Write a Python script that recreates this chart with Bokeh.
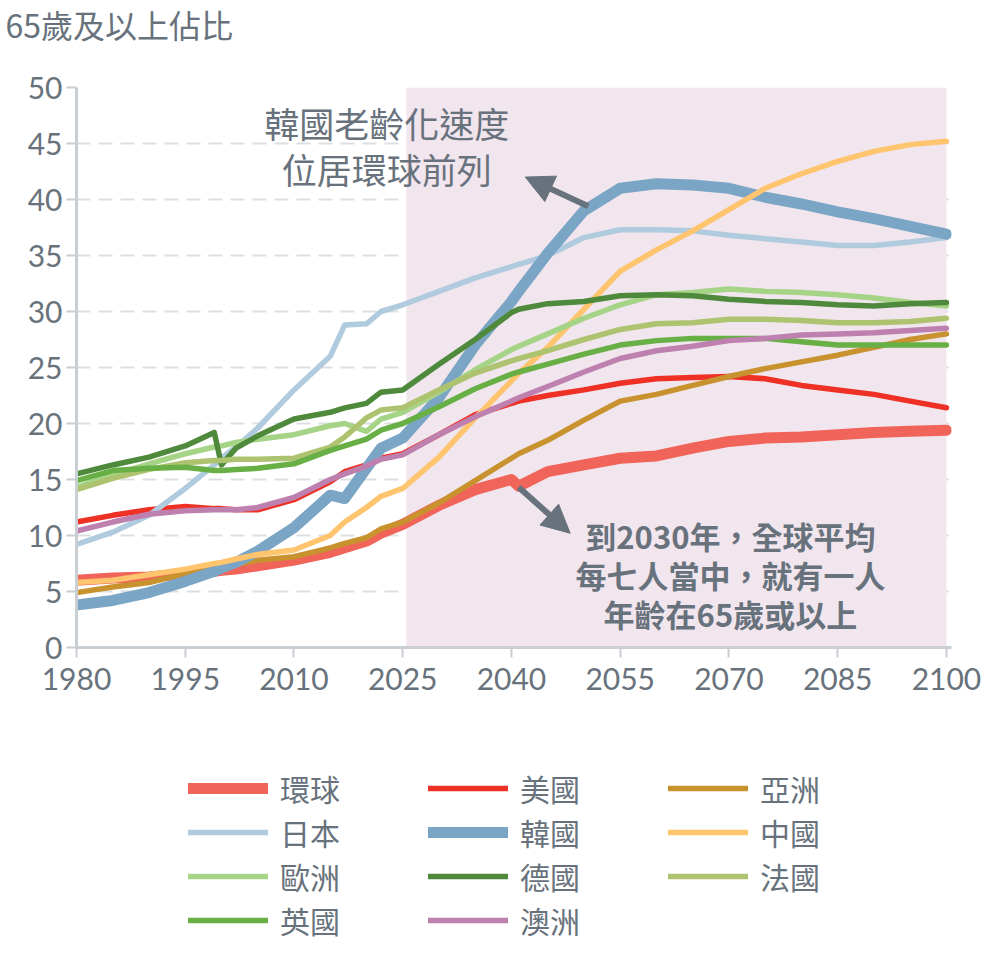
from bokeh.plotting import figure
from bokeh.layouts import column
from bokeh.models import (Range1d, SingleIntervalTicker, Legend, LegendItem, Label,
                          BoxAnnotation, Arrow, NormalHead)
from bokeh.embed import file_html
from bokeh.resources import INLINE

# Share of population aged 65+ (%), history and projection
YEARS = [1980, 1985, 1990, 1995, 1999, 2000, 2002, 2005, 2010, 2015, 2017, 2020, 2022,
         2025, 2030, 2035, 2040, 2041, 2045, 2050, 2055, 2060, 2065, 2070, 2075, 2080,
         2085, 2090, 2095, 2100]

WORLD = [6.0, 6.2, 6.3, 6.6, 6.8, 6.9, 7.0, 7.3, 7.8, 8.5, 8.9, 9.5, 10.2, 11.0, 12.7,
         14.1, 15.0, 14.4, 15.7, 16.3, 16.9, 17.1, 17.8, 18.4, 18.7, 18.8, 19.0, 19.2, 19.3, 19.4]
USA = [11.2, 11.8, 12.3, 12.6, 12.4, 12.4, 12.3, 12.3, 13.2, 14.8, 15.7, 16.3, 16.9, 17.3, 19.0,
       20.8, 21.8, 22.0, 22.5, 23.0, 23.6, 24.0, 24.1, 24.2, 24.0, 23.4, 23.0, 22.6, 22.0, 21.4]
ASIA = [4.9, 5.4, 5.8, 6.6, 7.0, 7.1, 7.4, 7.8, 8.1, 8.9, 9.3, 9.8, 10.6, 11.2, 12.9,
        14.9, 16.9, 17.3, 18.5, 20.3, 22.0, 22.6, 23.4, 24.2, 24.9, 25.5, 26.1, 26.8, 27.5, 28.0]
JAPAN = [9.2, 10.3, 11.8, 14.2, 16.3, 16.9, 17.9, 19.6, 23.0, 26.0, 28.8, 28.9, 30.0, 30.6, 31.8,
         33.0, 34.0, 34.2, 35.0, 36.6, 37.3, 37.3, 37.2, 36.8, 36.5, 36.2, 35.9, 35.9, 36.2, 36.6]
KOREA = [3.8, 4.2, 4.9, 5.9, 6.8, 7.1, 7.6, 8.6, 10.7, 13.6, 13.3, 16.0, 17.8, 18.7, 22.3,
         27.0, 30.9, 31.8, 35.2, 39.0, 41.0, 41.4, 41.3, 41.0, 40.2, 39.6, 38.9, 38.3, 37.6, 36.9]
CHINA = [5.8, 6.0, 6.5, 7.0, 7.5, 7.6, 7.9, 8.3, 8.7, 10.0, 11.2, 12.5, 13.5, 14.2, 17.0,
         20.5, 23.8, 24.5, 26.8, 30.2, 33.6, 35.5, 37.2, 39.1, 41.0, 42.3, 43.4, 44.3, 44.9, 45.2]
EUROPE = [14.3, 15.4, 16.4, 17.3, 17.9, 18.0, 18.3, 18.6, 19.0, 19.8, 20.0, 19.3, 20.4, 21.0, 22.8,
          24.8, 26.6, 26.9, 28.0, 29.4, 30.6, 31.5, 31.7, 32.0, 31.8, 31.7, 31.5, 31.2, 30.8, 30.5]
GERMANY = [15.5, 16.3, 17.0, 18.0, 19.2, 16.3, 17.8, 18.9, 20.4, 21.0, 21.4, 21.8, 22.8, 23.0, 25.3,
           27.5, 29.9, 30.2, 30.7, 30.9, 31.4, 31.5, 31.4, 31.1, 30.9, 30.8, 30.6, 30.5, 30.7, 30.8]
FRANCE = [14.1, 15.1, 15.9, 16.5, 16.7, 16.7, 16.8, 16.8, 16.9, 17.9, 18.8, 20.5, 21.2, 21.4, 23.0,
          24.5, 25.6, 25.8, 26.5, 27.5, 28.4, 28.9, 29.0, 29.3, 29.3, 29.2, 29.0, 29.0, 29.1, 29.4]
UK = [14.9, 15.8, 16.0, 16.1, 15.8, 15.8, 15.9, 16.0, 16.4, 17.6, 18.0, 18.6, 19.4, 20.0, 21.5,
      23.1, 24.4, 24.6, 25.3, 26.2, 27.0, 27.4, 27.6, 27.6, 27.6, 27.3, 27.0, 27.0, 27.0, 27.0]
AUSTRALIA = [10.4, 11.2, 11.9, 12.2, 12.3, 12.3, 12.3, 12.5, 13.4, 15.0, 15.5, 16.2, 16.8, 17.2, 19.0,
             20.6, 22.0, 22.3, 23.3, 24.6, 25.8, 26.5, 26.9, 27.4, 27.6, 27.9, 28.0, 28.1, 28.3, 28.5]

SERIES_NAMES = ["環球", "美國", "亞洲", "日本", "韓國", "中國", "歐洲", "德國", "法國", "英國", "澳洲"]
SERIES_VALUES = [WORLD, USA, ASIA, JAPAN, KOREA, CHINA, EUROPE, GERMANY, FRANCE, UK, AUSTRALIA]
SERIES_COLORS = ["#F1645A", "#EE3124", "#C8922F", "#B0CBDD", "#7BA5C5", "#FEC46E",
                 "#A6D487", "#4F8A3C", "#AEC36F", "#68AF45", "#BE80AE"]
SERIES_WIDTHS = [11, 5.5, 5.5, 5.5, 11, 5.5, 5.5, 5.5, 5.5, 5.5, 5.5]

PROJECTION_START = 2025.5
PROJECTION_END = 2100

TXT = "#68727C"
AXIS = "#C9CED3"
CJK = "Noto Sans CJK TC"
W = 984
BORDER_L, BORDER_R = 76, 33
HEAD_H, MAIN_H, KEY_H = 46, 694, 216


def strip(height, **kw):
    """Axis-less figure sharing the chart's left/right borders."""
    f = figure(width=W, height=height, output_backend="svg", toolbar_location=None,
               x_axis_type=None, y_axis_type=None, min_border=0,
               min_border_left=BORDER_L, min_border_right=BORDER_R, **kw)
    f.outline_line_color = None
    f.xgrid.visible = False
    f.ygrid.visible = False
    return f


# ---- title strip
head = strip(HEAD_H, x_range=Range1d(0, 1), y_range=Range1d(0, 1), title="65歲及以上佔比")
head.title.text_font = CJK
head.title.text_font_size = "32px"
head.title.text_font_style = "normal"
head.title.text_color = TXT
head.title.align = "left"
head.title.offset = -71
head.title.standoff = 0
head.title.vertical_align = "bottom"

# ---- main chart
p = figure(width=W, height=MAIN_H, output_backend="svg", toolbar_location=None,
           x_range=Range1d(1980, 2100.7), y_range=Range1d(0, 50),
           min_border_left=BORDER_L, min_border_right=BORDER_R,
           min_border_top=41, min_border_bottom=93)
p.outline_line_color = None

p.add_layout(BoxAnnotation(left=PROJECTION_START, right=PROJECTION_END, bottom=0, top=50,
                           fill_color="#F1E5EE", fill_alpha=1.0, line_color=None,
                           level="underlay"))

p.xaxis.ticker = SingleIntervalTicker(interval=15)
p.yaxis.ticker = SingleIntervalTicker(interval=5)
for ax in (p.xaxis[0], p.yaxis[0]):
    ax.axis_line_color = AXIS
    ax.axis_line_width = 3
    ax.major_tick_line_color = AXIS
    ax.major_tick_line_width = 2
    ax.major_tick_out = 10
    ax.major_tick_in = 0
    ax.minor_tick_line_color = None
    ax.major_label_text_color = TXT
    ax.major_label_text_font = "Lato"
    ax.major_label_text_font_size = "30px"
p.xaxis.major_label_standoff = 10
p.yaxis.major_label_standoff = 4

p.xgrid.grid_line_color = None
p.ygrid.grid_line_color = "#DCDFE2"
p.ygrid.grid_line_width = 2
p.ygrid.grid_line_dash = "14 8"

for vals, col, w in zip(SERIES_VALUES, SERIES_COLORS, SERIES_WIDTHS):
    p.line(YEARS, vals, line_color=col, line_width=w, line_join="round", line_cap="round")

for txt, yy in (("韓國老齡化速度", 46.9), ("位居環球前列", 42.8)):
    p.add_layout(Label(x=2022.8, y=yy, text=txt, text_font=CJK, text_font_size="35px",
                       text_color=TXT, text_align="center", text_baseline="middle"))
for txt, yy in (("到2030年，全球平均", 10.0), ("每七人當中，就有一人", 6.5), ("年齡在65歲或以上", 3.0)):
    p.add_layout(Label(x=2070.2, y=yy, text=txt, text_font=CJK, text_font_size="31px",
                       text_font_style="bold", text_color=TXT, text_align="center",
                       text_baseline="middle"))

p.add_layout(Arrow(x_start=2050.6, y_start=39.4, x_end=2041.9, y_end=42.0,
                   line_color=TXT, line_width=6,
                   end=NormalHead(size=28, fill_color=TXT, line_color=TXT)))
p.add_layout(Arrow(x_start=2041.0, y_start=14.3, x_end=2048.1, y_end=10.2,
                   line_color=TXT, line_width=6,
                   end=NormalHead(size=28, fill_color=TXT, line_color=TXT)))

# ---- key strip: the series are drawn here too, but fall outside its ranges,
# so only their legend swatches show
key = strip(KEY_H, x_range=Range1d(0, 1), y_range=Range1d(100, 101))
items = []
for name, vals, col, w in zip(SERIES_NAMES, SERIES_VALUES, SERIES_COLORS, SERIES_WIDTHS):
    r = key.line(YEARS, vals, line_color=col, line_width=w, line_cap="round")
    items.append(LegendItem(label=name, renderers=[r]))
legend = Legend(items=items, location=(112, 14), orientation="horizontal", ncols=3,
                glyph_width=80, glyph_height=20, label_standoff=12,
                label_width=148, label_height=36, spacing=-4, padding=0, margin=0,
                border_line_color=None, background_fill_alpha=0,
                label_text_font=CJK, label_text_font_size="30px",
                label_text_color=TXT, label_text_baseline="middle")
key.add_layout(legend)

open("out.html", "w").write(file_html(column(head, p, key, spacing=0), INLINE))
